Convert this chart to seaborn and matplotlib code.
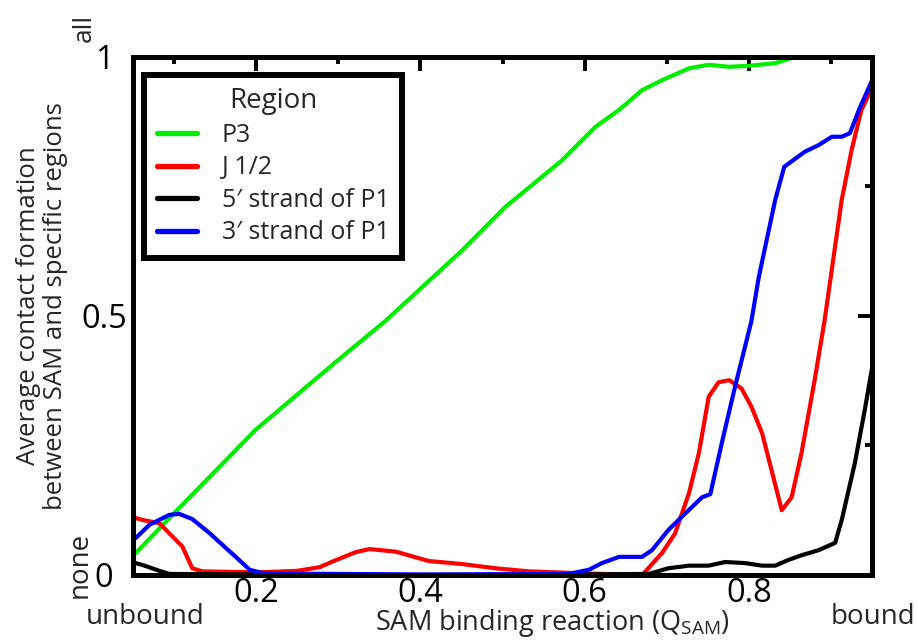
import numpy as np
import pandas as pd
import matplotlib
matplotlib.use("Agg")
import matplotlib.pyplot as plt
import seaborn as sns
from matplotlib.ticker import FixedLocator

# ---- data ----
p3_x = [0.053, 0.098, 0.199, 0.296, 0.357, 0.451, 0.503, 0.572, 0.613, 0.642, 0.670,
        0.694, 0.727, 0.751, 0.776, 0.800, 0.832, 0.852, 0.880, 0.950]
p3_y = [0.042, 0.116, 0.280, 0.410, 0.490, 0.627, 0.710, 0.800, 0.865, 0.898, 0.936,
        0.955, 0.978, 0.985, 0.981, 0.983, 0.988, 0.998, 1.005, 1.005]

j12_x = [0.053, 0.062, 0.082, 0.098, 0.110, 0.122, 0.134, 0.200, 0.250, 0.277, 0.296,
         0.321, 0.338, 0.370, 0.410, 0.451, 0.491, 0.532, 0.600, 0.670, 0.694, 0.710,
         0.727, 0.739, 0.751, 0.763, 0.776, 0.791, 0.803, 0.816, 0.840, 0.852, 0.864,
         0.880, 0.892, 0.913, 0.925, 0.937, 0.950]
j12_y = [0.110, 0.106, 0.100, 0.074, 0.055, 0.013, 0.007, 0.005, 0.008, 0.015, 0.028,
         0.044, 0.050, 0.045, 0.027, 0.021, 0.013, 0.007, 0.003, 0.000, 0.042, 0.080,
         0.158, 0.235, 0.344, 0.372, 0.376, 0.360, 0.325, 0.274, 0.125, 0.150, 0.235,
         0.376, 0.490, 0.724, 0.820, 0.898, 0.940]

p1_5_x = [0.053, 0.062, 0.082, 0.094, 0.300, 0.500, 0.678, 0.702, 0.727, 0.751, 0.771,
          0.795, 0.816, 0.832, 0.848, 0.864, 0.885, 0.905, 0.913, 0.929, 0.941, 0.950]
p1_5_y = [0.023, 0.019, 0.008, 0.002, 0.000, 0.000, 0.002, 0.013, 0.018, 0.018, 0.025,
          0.023, 0.018, 0.018, 0.029, 0.038, 0.048, 0.062, 0.106, 0.216, 0.318, 0.400]

p1_3_x = [0.053, 0.070, 0.094, 0.106, 0.122, 0.143, 0.163, 0.175, 0.192, 0.210, 0.400,
          0.580, 0.605, 0.621, 0.642, 0.670, 0.682, 0.702, 0.718, 0.743, 0.753, 0.767,
          0.783, 0.803, 0.812, 0.832, 0.843, 0.868, 0.885, 0.901, 0.913, 0.923, 0.934,
          0.950]
p1_3_y = [0.071, 0.097, 0.116, 0.118, 0.108, 0.081, 0.052, 0.035, 0.010, 0.003, 0.001,
          0.002, 0.010, 0.023, 0.035, 0.035, 0.048, 0.087, 0.112, 0.150, 0.156, 0.255,
          0.363, 0.490, 0.575, 0.724, 0.788, 0.817, 0.830, 0.846, 0.846, 0.853, 0.898,
          0.955]

regions = ["P3", "J 1/2", "5\u2032 strand of P1", "3\u2032 strand of P1"]
colors = ["#00ee00", "#ff0000", "#000000", "#0000ff"]
x_ticks = [0.2, 0.4, 0.6, 0.8]
x_minor = [0.1, 0.3, 0.5, 0.7, 0.9]
y_ticks = [0, 0.5, 1]
y_minor = [0.25, 0.75]
x_ticklabels = ["0.2", "0.4", "0.6", "0.8"]
y_ticklabels = ["0", "0.5", "1"]

frames = []
for name, xs, ys in zip(regions, [p3_x, j12_x, p1_5_x, p1_3_x], [p3_y, j12_y, p1_5_y, p1_3_y]):
    frames.append(pd.DataFrame({"Q": xs, "val": ys, "Region": name}))
df = pd.concat(frames, ignore_index=True)

sns.set_style("white")
plt.rcParams["font.family"] = ["Open Sans", "DejaVu Sans"]

fig = plt.figure(figsize=(9.18, 6.40), dpi=100)
ax = fig.add_axes([0.145, 0.1016, 0.805, 0.8094])

sns.lineplot(data=df, x="Q", y="val", hue="Region", hue_order=regions,
             palette=dict(zip(regions, colors)), linewidth=3.0, sort=False,
             estimator=None, ax=ax, legend=True)

ax.set_xlim(0.05, 0.95)
ax.set_ylim(0, 1)
ax.xaxis.set_major_locator(FixedLocator(x_ticks))
ax.xaxis.set_minor_locator(FixedLocator(x_minor))
ax.yaxis.set_major_locator(FixedLocator(y_ticks))
ax.yaxis.set_minor_locator(FixedLocator(y_minor))
ax.set_xticklabels(x_ticklabels)
ax.set_yticklabels(y_ticklabels, ha="center")
ax.tick_params(which="both", direction="in", top=True, right=True, width=2.8, colors="black")
ax.tick_params(which="major", length=10, labelsize=23.5)
ax.tick_params(which="minor", length=5)
ax.tick_params(axis="y", which="major", pad=21)
ax.tick_params(axis="x", which="major", pad=1.5)
for s in ax.spines.values():
    s.set_linewidth(3.6)
    s.set_color("black")

ax.set_xlabel("SAM binding reaction (Q$_{\\mathregular{SAM}}$)", fontsize=19.5)
ax.xaxis.set_label_coords((552 - 133) / 739, (575 - 607) / 518)
ax.xaxis.label.set_va("top")
ax.set_ylabel("")
fig.text(42 / 918, 1 - 306 / 640, "Average contact formation\nbetween SAM and specific regions",
         rotation=90, ha="center", va="center", multialignment="center",
         fontsize=18.5, linespacing=1.1)

fig.text(84 / 918, 1 - 28 / 640, "all", rotation=90, ha="center", va="center", fontsize=19)
fig.text(80 / 918, 1 - 565 / 640, "none", rotation=90, ha="center", va="center", fontsize=20)
fig.text(145 / 918, 1 - 617 / 640, "unbound", ha="center", va="center", fontsize=20)
fig.text(873 / 918, 1 - 617 / 640, "bound", ha="center", va="center", fontsize=20)

leg = ax.legend(title="Region", loc="upper left", bbox_to_anchor=(0.008, 0.975),
                fontsize=18, title_fontsize=20, frameon=True, fancybox=False,
                framealpha=1, handlelength=1.6, handletextpad=1.0, borderpad=0.5,
                labelspacing=0.3, borderaxespad=0.2)
leg.get_frame().set_edgecolor("black")
leg.get_frame().set_linewidth(4.3)
for line in leg.get_lines():
    line.set_linewidth(3.8)

fig.savefig("out.png", dpi=100)
